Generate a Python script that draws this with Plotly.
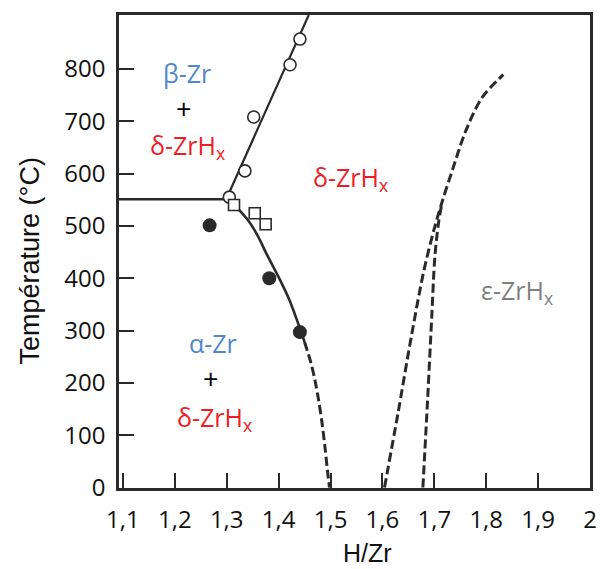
import plotly.graph_objects as go

# ---- data (H/Zr, Temperature °C) ----
eut_line_x = [1.092, 1.299]
eut_line_y = [551, 551]

beta_delta_x = [1.299, 1.458]
beta_delta_y = [551, 903]

alpha_solid_x = [1.299, 1.318, 1.340, 1.358, 1.378, 1.401, 1.420, 1.436, 1.450]
alpha_solid_y = [551, 536, 512, 484, 444, 400, 360, 318, 278]

alpha_dash_x = [1.450, 1.462, 1.470, 1.477, 1.483, 1.489, 1.494, 1.498]
alpha_dash_y = [278, 239, 205, 167, 128, 80, 33, 0]

eps1_x = [1.604, 1.630, 1.656, 1.680, 1.700, 1.716, 1.735, 1.760, 1.792, 1.833]
eps1_y = [0, 142, 290, 415, 495, 549, 607, 680, 745, 789]

eps2_x = [1.678, 1.687, 1.695, 1.701, 1.708, 1.714]
eps2_y = [0, 167, 325, 440, 505, 540]

open_circ_x = [1.441, 1.422, 1.352, 1.335, 1.305]
open_circ_y = [857, 808, 708, 605, 555]

square_x = [1.314, 1.354, 1.375]
square_y = [540, 524, 503]

filled_x = [1.267, 1.382, 1.441]
filled_y = [501, 400, 297]

x_ticks = [1.1, 1.2, 1.3, 1.4, 1.5, 1.6, 1.7, 1.8, 1.9, 2.0]
x_ticktext = ["1,1", "1,2", "1,3", "1,4", "1,5", "1,6", "1,7", "1,8", "1,9", "2"]
y_ticks = [0, 100, 200, 300, 400, 500, 600, 700, 800]

LINE = "#2a2a2a"
BLUE = "#4f87c9"
RED = "#ee1c24"
GREY = "#7f7f7f"

fig = go.Figure()

def line(x, y, dash=None, width=2.6):
    fig.add_trace(go.Scatter(x=x, y=y, mode="lines",
                             line=dict(color=LINE, width=width, dash=dash,
                                       shape="spline", smoothing=0.9),
                             showlegend=False, hoverinfo="skip"))

line(eut_line_x, eut_line_y)
line(beta_delta_x, beta_delta_y, width=2.2)
line(alpha_solid_x, alpha_solid_y)
line(alpha_dash_x, alpha_dash_y, dash="9px,4px", width=3)
line(eps1_x, eps1_y, dash="9px,4px", width=3)
line(eps2_x, eps2_y, dash="9px,4px", width=3)

fig.add_trace(go.Scatter(x=open_circ_x, y=open_circ_y, mode="markers",
                         marker=dict(symbol="circle", size=12, color="white",
                                     line=dict(color=LINE, width=1.6)),
                         showlegend=False))
fig.add_trace(go.Scatter(x=square_x, y=square_y, mode="markers",
                         marker=dict(symbol="square", size=11, color="white",
                                     line=dict(color=LINE, width=1.6)),
                         showlegend=False))
fig.add_trace(go.Scatter(x=filled_x, y=filled_y, mode="markers",
                         marker=dict(symbol="circle", size=14, color=LINE,
                                     line=dict(color=LINE, width=0)),
                         showlegend=False))

AF = "Open Sans"
labels = [
    (1.223, 792, "β-Zr", BLUE, 25),
    (1.216, 725, "+", "black", 27),
    (1.225, 652, "δ-ZrH<sub>x</sub>", RED, 25),
    (1.539, 590, "δ-ZrH<sub>x</sub>", RED, 25),
    (1.859, 374, "ε-ZrH<sub>x</sub>", GREY, 25),
    (1.274, 276, "α-Zr", BLUE, 25),
    (1.269, 209, "+", "black", 27),
    (1.276, 131, "δ-ZrH<sub>x</sub>", RED, 25),
]
for x, y, t, c, s in labels:
    fig.add_annotation(x=x, y=y, text=t, showarrow=False,
                       xanchor="center", yanchor="middle",
                       font=dict(family=AF, size=s, color=c))

fig.add_annotation(xref="paper", yref="paper", x=-0.190, y=0.480,
                   xanchor="center", yanchor="middle",
                   text="Température (°C)", textangle=-90, showarrow=False,
                   font=dict(family="Liberation Sans", size=27, color="#111"))
fig.add_annotation(xref="paper", yref="paper", x=0.527, y=-0.137,
                   xanchor="center", yanchor="middle",
                   text="H/Zr", showarrow=False,
                   font=dict(family="Liberation Sans", size=25, color="#111"))

fig.update_xaxes(range=[1.0924, 2.0], tickvals=x_ticks, ticktext=x_ticktext,
                 ticks="inside", ticklen=15, tickwidth=2, tickcolor=LINE,
                 showline=True, linewidth=2.5, linecolor=LINE, mirror=True,
                 showgrid=False, zeroline=False, ticklabelstandoff=8,
                 tickfont=dict(family=AF, size=24, color="#111"))
fig.update_yaxes(range=[-1, 903], tickvals=y_ticks,
                 ticks="inside", ticklen=15, tickwidth=2, tickcolor=LINE,
                 showline=True, linewidth=2.5, linecolor=LINE, mirror=True,
                 showgrid=False, zeroline=False, ticklabelstandoff=6,
                 tickfont=dict(family=AF, size=24, color="#111"))

fig.update_layout(width=607, height=569, autosize=False,
                  margin=dict(l=119, r=10, t=15, b=81),
                  plot_bgcolor="white", paper_bgcolor="white")

fig.write_html("out.html")
